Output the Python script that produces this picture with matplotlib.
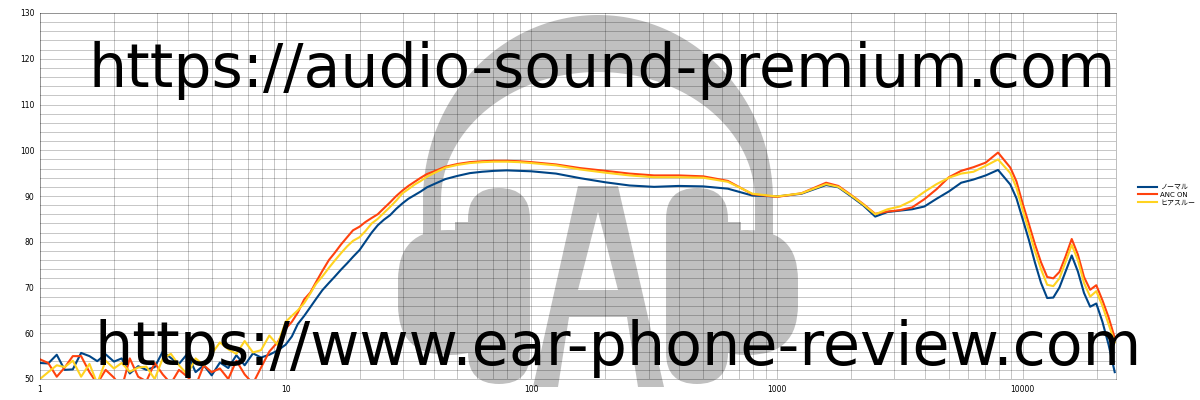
import matplotlib
matplotlib.use("Agg")
import matplotlib.pyplot as plt
from matplotlib.patches import FancyBboxPatch, PathPatch, Rectangle
from matplotlib.path import Path
from matplotlib.ticker import FixedLocator, LogLocator, NullFormatter
from matplotlib.lines import Line2D
import numpy as np

plt.rcParams['font.family'] = ['DejaVu Sans', 'Noto Sans CJK JP']

# frequency points (Hz)
freq = [1.0, 1.08, 1.17, 1.26, 1.36, 1.47, 1.59, 1.71, 1.85, 2.0,
        2.15, 2.32, 2.51, 2.71, 2.93, 3.16, 3.41, 3.68, 3.98, 4.3,
        4.64, 5.0, 5.4, 5.84, 6.3, 6.81, 7.36, 7.94, 8.58, 9.26,
        10, 10.6, 11.2, 11.9, 12.6, 13.3, 14.1, 15.0, 15.8, 16.8,
        17.8, 18.8, 20.0, 21.1, 22.4, 23.7, 25.1, 26.6, 28.2, 29.9,
        31.6, 33.5, 35.5, 37.6, 39.8, 44.7, 50.1, 56.2, 63.1, 70.8,
        79.4, 89.1, 100, 126, 158, 200, 251, 316, 398, 501,
        631, 794, 1000, 1259, 1585, 1778, 1995, 2239, 2512, 2818,
        3162, 3548, 3981, 4467, 5012, 5623, 6310, 7079, 7943, 8913,
        9441, 10000, 10593, 11220, 11885, 12589, 13335, 14125, 14962, 15849,
        16788, 17783, 18836, 19953, 21135, 22387, 23714]

normal = [53.5, 53.4, 55.3, 52.0, 52.1, 55.7, 55.0, 53.9, 55.4, 53.8,
          54.5, 51.2, 52.8, 52.0, 52.6, 56.0, 54.6, 53.3, 55.5, 51.5,
          53.0, 50.8, 53.6, 52.4, 55.2, 53.0, 55.6, 54.7, 55.3, 56.2,
          57.5, 59.3, 62.0, 63.8, 65.7, 67.5, 69.4, 71.0, 72.3, 73.9,
          75.3, 76.7, 78.2, 80.0, 82.0, 83.6, 84.8, 85.8, 87.2, 88.4,
          89.4, 90.2, 91.0, 91.9, 92.5, 93.7, 94.4, 95.0, 95.3, 95.5,
          95.6, 95.5, 95.4, 94.9, 93.9, 93.0, 92.3, 92.0, 92.2, 92.1,
          91.6, 90.1, 89.9, 90.5, 92.4, 91.9, 90.0, 88.0, 85.5, 86.5,
          86.8, 87.1, 87.7, 89.4, 91.0, 92.9, 93.6, 94.5, 95.7, 92.5,
          89.5, 85.0, 80.5, 75.5, 71.0, 67.7, 67.8, 70.0, 73.5, 77.0,
          73.5, 68.8, 65.8, 66.5, 62.5, 57.5, 51.5]

anc_on = [54.3, 53.5, 50.5, 52.5, 55.0, 55.0, 51.5, 49.0, 52.0, 50.3,
          48.0, 54.5, 50.5, 49.5, 53.5, 51.0, 49.0, 52.0, 50.5, 48.5,
          53.0, 51.5, 52.3, 50.0, 54.0, 51.0, 49.0, 52.5, 56.0, 58.0,
          61.0, 62.5, 64.5, 67.4, 68.9, 71.2, 73.6, 76.0, 77.5, 79.4,
          81.0, 82.5, 83.3, 84.3, 85.2, 86.0, 87.3, 88.6, 90.0, 91.2,
          92.2, 93.1, 94.0, 94.8, 95.3, 96.4, 97.0, 97.4, 97.6, 97.7,
          97.7, 97.6, 97.4, 96.9, 96.1, 95.5, 94.9, 94.5, 94.5, 94.3,
          93.3, 90.4, 89.8, 90.6, 92.9, 92.2, 90.3, 88.3, 86.1, 86.6,
          86.9, 87.5, 89.3, 91.5, 94.1, 95.5, 96.3, 97.3, 99.5, 96.2,
          93.2, 88.4, 84.0, 79.5, 75.5, 72.3, 72.0, 73.4, 76.8, 80.6,
          77.2, 72.3, 69.5, 70.5, 67.2, 63.5, 59.0]

hear_through = [50.0, 51.5, 53.0, 52.6, 54.0, 50.5, 53.3, 49.0, 54.0, 52.3,
                53.5, 51.6, 52.5, 52.7, 50.0, 54.5, 55.5, 53.0, 51.0, 54.5,
                53.0, 55.5, 58.0, 56.5, 55.5, 58.3, 55.8, 56.3, 59.5, 57.5,
                62.5, 63.8, 65.0, 66.6, 68.7, 70.8, 72.4, 74.3, 75.8, 77.5,
                79.0, 80.2, 81.0, 82.3, 84.0, 85.0, 86.3, 87.6, 89.0, 90.6,
                91.5, 92.5, 93.3, 94.2, 94.9, 96.2, 96.8, 97.2, 97.4, 97.5,
                97.5, 97.4, 97.2, 96.7, 95.8, 95.1, 94.5, 94.1, 94.1, 94.0,
                93.1, 90.5, 89.9, 90.6, 92.6, 92.0, 90.2, 88.2, 86.0, 87.1,
                87.7, 89.0, 90.9, 92.6, 94.0, 94.9, 95.3, 96.6, 98.0, 95.0,
                91.8, 87.0, 82.5, 78.0, 74.0, 70.6, 70.3, 72.0, 75.6, 79.3,
                76.0, 71.0, 68.0, 69.2, 66.0, 62.0, 58.0]

labels = ['ノーマル', 'ANC ON', 'ヒアスルー']
colors = ['#004586', '#ff420e', '#ffd320']

fig = plt.figure(figsize=(12, 4), dpi=100)

# ---- gray headphone logo behind the chart (pixel coordinates) ----
bg = fig.add_axes([0, 0, 1, 1], zorder=0)
bg.set_xlim(0, 1200)
bg.set_ylim(400, 0)
bg.axis('off')
gray = '#c0c0c0'
cx = 598

t = np.linspace(0, np.pi, 120)
outer = np.column_stack([cx - 175 * np.cos(t), 200 - 185 * np.sin(t)])
inner = np.column_stack([cx - 157 * np.cos(t[::-1]), 200 - 128 * np.sin(t[::-1])])
band = np.vstack([[[cx - 175, 235]], outer, [[cx + 175, 235], [cx + 157, 235]],
                  inner, [[cx - 157, 235]]])
bg.add_patch(plt.Polygon(band, closed=True, fc=gray, ec='none'))

for side in (-1, 1):
    def mx(x):
        return x if side < 0 else 2 * cx - x
    bg.add_patch(FancyBboxPatch((min(mx(468), mx(530)), 188), 62, 196,
                                boxstyle='round,pad=0,rounding_size=31', fc=gray, ec='none'))
    bg.add_patch(FancyBboxPatch((min(mx(398), mx(500)), 230), 102, 125,
                                boxstyle='round,pad=0,rounding_size=50', fc=gray, ec='none'))
    bg.add_patch(Rectangle((min(mx(455), mx(470)), 222), 15, 80, fc=gray, ec='none'))

# letter A with its triangular hole (hole wound the other way)
a_out = [(533, 387), (578, 186), (618, 186), (664, 387), (638, 387), (627, 317),
         (569, 317), (558, 387), (533, 387)]
a_hole = [(598, 212), (578, 290), (618, 290), (598, 212)]
verts = a_out + a_hole
codes = ([Path.MOVETO] + [Path.LINETO] * (len(a_out) - 2) + [Path.CLOSEPOLY] +
         [Path.MOVETO] + [Path.LINETO] * (len(a_hole) - 2) + [Path.CLOSEPOLY])
bg.add_patch(PathPatch(Path(verts, codes), fc=gray, ec='none'))

# ---- main chart ----
ax = fig.add_axes([40 / 1200, 21 / 400, 1076 / 1200, 366 / 400], zorder=1)
ax.patch.set_alpha(0)
ax.set_xscale('log')
ax.set_xlim(1, 24000)
ax.set_ylim(50, 130)

ax.xaxis.set_major_locator(FixedLocator([1, 10, 100, 1000, 10000]))
ax.set_xticklabels(['1', '10', '100', '1000', '10000'])
ax.xaxis.set_minor_locator(LogLocator(base=10, subs=range(2, 10), numticks=20))
ax.xaxis.set_minor_formatter(NullFormatter())
ax.set_yticks(range(50, 131, 10))
ax.set_yticks(range(50, 131, 2), minor=True)
ax.grid(which='both', color='black', alpha=0.22, lw=0.72)
ax.set_axisbelow(True)
ax.tick_params(which='both', length=0, labelsize=5.5, pad=4)
for s in ax.spines.values():
    s.set_color((0, 0, 0, 0.25))
    s.set_linewidth(0.72)

for ys, c in zip([normal, anc_on, hear_through], colors):
    ax.plot(freq, ys, color=c, lw=1.5)

handles = [Line2D([], [], color=c, lw=1.5) for c in colors]
fig.legend(handles, labels, loc='upper left', bbox_to_anchor=(1138 / 1200, 1 - 184 / 400),
           frameon=False, fontsize=5, handlelength=2.8, labelspacing=0.25,
           handletextpad=0.4, borderpad=0, borderaxespad=0)

# ---- watermark text ----
t1 = fig.text(88 / 1200, 1 - 87 / 400, 'https://audio-sound-premium.com', fontsize=46,
              ha='left', va='baseline', color='black', zorder=5)
t2 = fig.text(95 / 1200, 1 - 365 / 400, 'https://www.ear-phone-review.com', fontsize=46,
              ha='left', va='baseline', color='black', zorder=5)
fig.canvas.draw()
r = fig.canvas.get_renderer()
for txt, w in ((t1, 1025), (t2, 1045)):
    cur = txt.get_window_extent(r).width
    txt.set_fontsize(46 * w / cur)

fig.savefig('out.png', dpi=100)
